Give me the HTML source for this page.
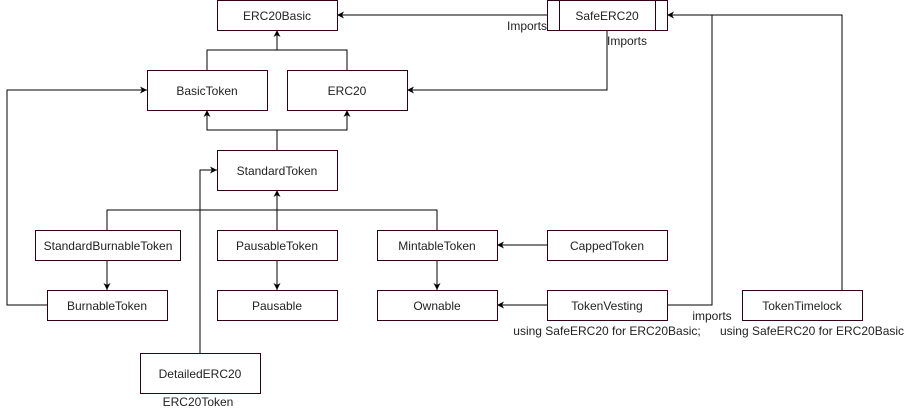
<!DOCTYPE html>
<html><head><style>body{margin:0;background:#fff}</style></head><body>
<svg width="913" height="412" xmlns="http://www.w3.org/2000/svg" font-family="Liberation Sans, Arial, sans-serif" font-size="12">
<defs><marker id="a" markerWidth="8" markerHeight="8" refX="7" refY="4" orient="auto" markerUnits="userSpaceOnUse"><path d="M0,0.5 L7,4 L0,7.5 L2,4 Z" fill="#000"/></marker></defs>
<g fill="none" stroke="#000" stroke-width="1">
<path d="M547,15 H337" marker-end="url(#a)"/>
<path d="M607,30 V90 H407" marker-end="url(#a)"/>
<path d="M207,70 V50 H347 V70 M277,50 V30" marker-end="url(#a)"/>
<path d="M277,150 V130 H207 V110" marker-end="url(#a)"/>
<path d="M277,130 H347 V110" marker-end="url(#a)"/>
<path d="M107,230 V210 H437 V230"/>
<path d="M277,230 V190" marker-end="url(#a)"/>
<path d="M107,260 V290" marker-end="url(#a)"/>
<path d="M47,305 H7 V90 H147" marker-end="url(#a)"/>
<path d="M200,353 V170 H217" marker-end="url(#a)"/>
<path d="M277,260 V290" marker-end="url(#a)"/>
<path d="M437,260 V290" marker-end="url(#a)"/>
<path d="M547,245 H497" marker-end="url(#a)"/>
<path d="M547,305 H497" marker-end="url(#a)"/>
<path d="M667,305 H712 V15 H667" marker-end="url(#a)"/>
<path d="M842,290 V15 H712"/>
</g>
<g fill="#fff" stroke="#33001a" stroke-width="1">
<rect x="217.5" y="0.5" width="120" height="30"/>
<rect x="547.5" y="0.5" width="120" height="30"/>
<path d="M559.5,0.5V30.5M655.5,0.5V30.5"/>
<rect x="147.5" y="70.5" width="120" height="40"/>
<rect x="287.5" y="70.5" width="120" height="40"/>
<rect x="217.5" y="150.5" width="120" height="40"/>
<rect x="35.5" y="230.5" width="145" height="30"/>
<rect x="47.5" y="290.5" width="120" height="30"/>
<rect x="217.5" y="230.5" width="120" height="30"/>
<rect x="217.5" y="290.5" width="120" height="30"/>
<rect x="377.5" y="230.5" width="120" height="30"/>
<rect x="377.5" y="290.5" width="120" height="30"/>
<rect x="547.5" y="230.5" width="120" height="30"/>
<rect x="547.5" y="290.5" width="120" height="30"/>
<rect x="742.5" y="290.5" width="120" height="30"/>
<rect x="140.5" y="353.5" width="120" height="40"/>
</g>
<g fill="#222" text-anchor="middle">
<text x="277" y="20">ERC20Basic</text>
<text x="607" y="20">SafeERC20</text>
<text x="207" y="95">BasicToken</text>
<text x="347" y="95">ERC20</text>
<text x="277" y="175">StandardToken</text>
<text x="108" y="250">StandardBurnableToken</text>
<text x="107" y="310">BurnableToken</text>
<text x="277" y="250">PausableToken</text>
<text x="277" y="310">Pausable</text>
<text x="437" y="250">MintableToken</text>
<text x="437" y="310">Ownable</text>
<text x="607" y="250">CappedToken</text>
<text x="607" y="310">TokenVesting</text>
<text x="802" y="310">TokenTimelock</text>
<text x="200" y="378">DetailedERC20</text>
<text x="527" y="30">Imports</text>
<text x="627" y="45">Imports</text>
<text x="712" y="320">imports</text>
<text x="607" y="335">using SafeERC20 for ERC20Basic;</text>
<text x="812" y="335">using SafeERC20 for ERC20Basic</text>
<text x="198" y="406">ERC20Token</text>
</g>
</svg>
</body></html>
